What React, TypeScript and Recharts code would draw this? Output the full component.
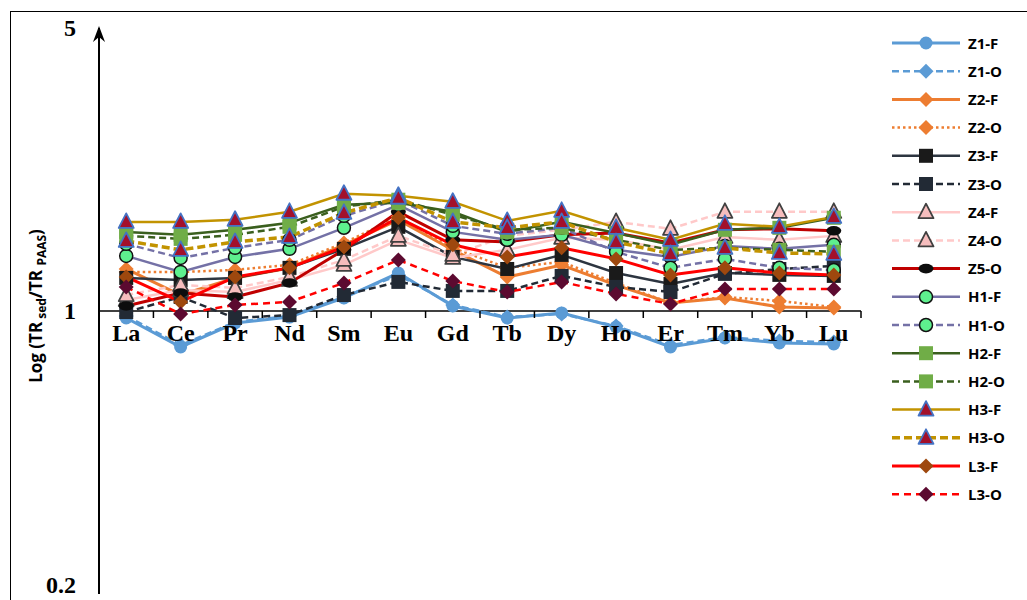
import React from "react";
import { LineChart, Line, XAxis, YAxis, ReferenceLine } from "recharts";

const CATS = ["La", "Ce", "Pr", "Nd", "Sm", "Eu", "Gd", "Tb", "Dy", "Ho", "Er", "Tm", "Yb", "Lu"];
const Y_TICKS = [0.2, 1, 5];

const Z1_F = [0.961, 0.815, 0.934, 0.966, 1.077, 1.241, 1.029, 0.961, 0.989, 0.913, 0.815, 0.858, 0.834, 0.829];
const Z1_O = [0.972, 0.824, 0.939, 0.972, 1.083, 1.227, 1.035, 0.966, 0.983, 0.918, 0.824, 0.862, 0.843, 0.838];
const Z2_F = [1.27, 1.095, 1.206, 1.277, 1.456, 1.679, 1.415, 1.213, 1.299, 1.159, 1.047, 1.077, 1.023, 1.017];
const Z2_O = [1.248, 1.248, 1.263, 1.3, 1.473, 1.708, 1.432, 1.278, 1.322, 1.172, 1.047, 1.083, 1.059, 1.023];
const Z3_F = [1.207, 1.193, 1.207, 1.278, 1.424, 1.614, 1.36, 1.27, 1.376, 1.241, 1.166, 1.241, 1.228, 1.221];
const Z3_O = [0.994, 1.083, 0.961, 0.977, 1.095, 1.18, 1.121, 1.121, 1.221, 1.147, 1.114, 1.235, 1.27, 1.292];
const Z4_F = [1.065, 1.127, 1.114, 1.193, 1.3, 1.499, 1.352, 1.416, 1.516, 1.499, 1.416, 1.524, 1.499, 1.533];
const Z4_O = [1.095, 1.16, 1.14, 1.214, 1.337, 1.533, 1.376, 1.533, 1.587, 1.66, 1.596, 1.758, 1.758, 1.758];
const Z5_O = [1.029, 1.108, 1.083, 1.173, 1.416, 1.758, 1.499, 1.481, 1.542, 1.559, 1.473, 1.587, 1.596, 1.578];
const H1_F = [1.368, 1.249, 1.36, 1.424, 1.605, 1.829, 1.568, 1.499, 1.542, 1.416, 1.36, 1.448, 1.424, 1.457];
const H1_O = [1.465, 1.352, 1.432, 1.499, 1.718, 1.883, 1.623, 1.551, 1.605, 1.4, 1.278, 1.345, 1.278, 1.263];
const H2_F = [1.568, 1.542, 1.587, 1.651, 1.829, 1.85, 1.758, 1.568, 1.66, 1.559, 1.457, 1.587, 1.605, 1.699];
const H2_O = [1.533, 1.507, 1.542, 1.614, 1.809, 1.883, 1.728, 1.587, 1.605, 1.499, 1.416, 1.432, 1.416, 1.4];
const H3_F = [1.66, 1.66, 1.68, 1.758, 1.948, 1.926, 1.861, 1.67, 1.768, 1.605, 1.499, 1.642, 1.614, 1.708];
const H3_O = [1.49, 1.416, 1.481, 1.524, 1.748, 1.904, 1.66, 1.605, 1.66, 1.481, 1.384, 1.432, 1.391, 1.384];
const L3_F = [1.214, 1.053, 1.214, 1.278, 1.44, 1.699, 1.457, 1.36, 1.432, 1.345, 1.228, 1.278, 1.241, 1.228];
const L3_O = [1.147, 0.983, 1.035, 1.053, 1.173, 1.337, 1.186, 1.114, 1.18, 1.102, 1.041, 1.134, 1.134, 1.134];

type Shape = "circle" | "diamond" | "square" | "triangle" | "oval";
type Series = {
  name: string;
  values: number[];
  color: string;
  width: number;
  dash?: string;
  shape: Shape;
  fill: string;
  stroke?: string;
};

const SERIES: Series[] = [
  { name: "Z1-F", values: Z1_F, color: "#5B9BD5", width: 3, shape: "circle", fill: "#5B9BD5" },
  { name: "Z1-O", values: Z1_O, color: "#5B9BD5", width: 2.5, dash: "7 4", shape: "diamond", fill: "#5B9BD5" },
  { name: "Z2-F", values: Z2_F, color: "#ED7D31", width: 3, shape: "diamond", fill: "#ED7D31" },
  { name: "Z2-O", values: Z2_O, color: "#ED7D31", width: 2.5, dash: "2.5 3", shape: "diamond", fill: "#ED7D31" },
  { name: "Z3-F", values: Z3_F, color: "#2D3540", width: 2.5, shape: "square", fill: "#1A1A1A" },
  { name: "Z3-O", values: Z3_O, color: "#222A35", width: 2.5, dash: "7 4", shape: "square", fill: "#222A35" },
  { name: "Z4-F", values: Z4_F, color: "#FFC9C9", width: 2.5, shape: "triangle", fill: "#F6BDBD", stroke: "#404040" },
  { name: "Z4-O", values: Z4_O, color: "#FFC9C9", width: 2.5, dash: "7 4", shape: "triangle", fill: "#F6BDBD", stroke: "#404040" },
  { name: "Z5-O", values: Z5_O, color: "#C00000", width: 3, shape: "oval", fill: "#0D0D0D" },
  { name: "H1-F", values: H1_F, color: "#7471A6", width: 2.5, shape: "circle", fill: "#5EF08E", stroke: "#111" },
  { name: "H1-O", values: H1_O, color: "#7471A6", width: 2.5, dash: "7 4", shape: "circle", fill: "#5EF08E", stroke: "#111" },
  { name: "H2-F", values: H2_F, color: "#3A5F1E", width: 2.5, shape: "square", fill: "#70AD47" },
  { name: "H2-O", values: H2_O, color: "#3A5F1E", width: 2.5, dash: "7 4", shape: "square", fill: "#70AD47" },
  { name: "H3-F", values: H3_F, color: "#C29300", width: 2.5, shape: "triangle", fill: "#A3102B", stroke: "#4472C4" },
  { name: "H3-O", values: H3_O, color: "#C29300", width: 3.5, dash: "8 4", shape: "triangle", fill: "#A3102B", stroke: "#4472C4" },
  { name: "L3-F", values: L3_F, color: "#FF0000", width: 3, shape: "diamond", fill: "#9E480E" },
  { name: "L3-O", values: L3_O, color: "#FF0000", width: 2.5, dash: "7 5", shape: "diamond", fill: "#5C0A30" },
];

const W = 1027;
const H = 600;
const PLOT_LEFT = 99;
const PLOT_RIGHT = 861;
const PLOT_TOP = 28;
const PLOT_BOTTOM = 594;
const BAND = (PLOT_RIGHT - PLOT_LEFT) / CATS.length;
const Y_ONE = PLOT_TOP + (PLOT_BOTTOM - PLOT_TOP) / 2; // value 1 sits mid-way on the 0.2..5 log axis

const data = CATS.map((el, i) => {
  const row: Record<string, string | number> = { el };
  SERIES.forEach((s) => (row[s.name] = s.values[i]));
  return row;
});

function Marker({ cx, cy, s }: { cx: number; cy: number; s: Series }) {
  const stroke = s.stroke ?? s.fill;
  switch (s.shape) {
    case "circle":
      return <circle cx={cx} cy={cy} r={6.5} fill={s.fill} stroke={stroke} strokeWidth={s.stroke ? 1.5 : 0} />;
    case "diamond":
      return (
        <polygon
          points={`${cx},${cy - 7.5} ${cx + 7.5},${cy} ${cx},${cy + 7.5} ${cx - 7.5},${cy}`}
          fill={s.fill}
        />
      );
    case "square":
      return <rect x={cx - 7} y={cy - 7} width={14} height={14} fill={s.fill} />;
    case "triangle":
      return (
        <polygon
          points={`${cx},${cy - 8.5} ${cx + 7.5},${cy + 6} ${cx - 7.5},${cy + 6}`}
          fill={s.fill}
          stroke={stroke}
          strokeWidth={1.8}
          strokeLinejoin="round"
        />
      );
    case "oval":
      return <ellipse cx={cx} cy={cy} rx={7.5} ry={4.8} fill={s.fill} />;
  }
}

function XTick({ x, payload }: any) {
  return (
    <g>
      <line x1={x + BAND / 2} x2={x + BAND / 2} y1={Y_ONE} y2={Y_ONE + 7} stroke="#000" strokeWidth={1.5} />
      <text
        x={x}
        y={Y_ONE + 30}
        textAnchor="middle"
        fontFamily="Liberation Serif"
        fontWeight="bold"
        fontSize={24}
        fill="#000"
      >
        {payload.value}
      </text>
    </g>
  );
}

function YTick({ y, payload }: any) {
  // the bottom label sits at the frame edge; keep it inside the picture
  return (
    <text
      x={76}
      y={Math.min(y + 8, H - 7)}
      textAnchor="end"
      fontFamily="Liberation Serif"
      fontWeight="bold"
      fontSize={24}
      fill="#000"
    >
      {payload.value}
    </text>
  );
}

function ChartLegend() {
  const top = 43;
  const step = 28.2;
  return (
    <svg width={147} height={520} style={{ position: "absolute", left: 880, top: 0 }}>
      {SERIES.map((s, i) => {
        const y = top + i * step;
        return (
          <g key={s.name}>
            <line
              x1={12}
              x2={80}
              y1={y}
              y2={y}
              stroke={s.color}
              strokeWidth={s.width}
              strokeDasharray={s.dash}
            />
            <Marker cx={46} cy={y} s={s} />
            <text x={88} y={y + 5.5} fontFamily="Open Sans" fontWeight="bold" fontSize={15} fill="#000">
              {s.name}
            </text>
          </g>
        );
      })}
    </svg>
  );
}

export default function App() {
  return (
    <div style={{ position: "absolute", left: 0, top: 0, width: W, height: H, background: "#fff", overflow: "hidden" }}>
      <div
        style={{
          position: "absolute",
          left: 10,
          top: 11,
          width: 1100,
          height: 700,
          borderLeft: "1.5px solid #000",
          borderTop: "1.5px solid #000",
        }}
      />
      <div style={{ position: "absolute", left: 0, top: 0 }}>
        <LineChart
          width={W}
          height={H}
          data={data}
          margin={{ top: PLOT_TOP, right: W - PLOT_RIGHT, bottom: H - PLOT_BOTTOM - 1, left: PLOT_LEFT - 60 }}
        >
          <XAxis
            dataKey="el"
            height={1}
            axisLine={false}
            tickLine={false}
            interval={0}
            padding={{ left: BAND / 2, right: BAND / 2 }}
            tick={<XTick />}
          />
          <YAxis
            type="number"
            scale="log"
            domain={[0.2, 5]}
            ticks={Y_TICKS}
            interval={0}
            allowDataOverflow
            width={60}
            tickLine={false}
            axisLine={{ stroke: "#000", strokeWidth: 2 }}
            tick={<YTick />}
          />
          <ReferenceLine y={1} stroke="#000" strokeWidth={1.5} />
          {SERIES.map((s) => (
            <Line
              key={s.name}
              dataKey={s.name}
              name={s.name}
              type="linear"
              stroke={s.color}
              strokeWidth={s.width}
              strokeDasharray={s.dash}
              isAnimationActive={false}
              dot={(p: any) => <Marker key={`${s.name}-${p.index}`} cx={p.cx} cy={p.cy} s={s} />}
              activeDot={false}
            />
          ))}
          <text
            transform="translate(42 306) rotate(-90)"
            textAnchor="middle"
            fontFamily="Open Sans"
            fontWeight="bold"
            fontSize={17}
            fill="#000"
          >
            Log (TR
            <tspan fontSize={12} dy={4}> sed</tspan>
            <tspan dy={-4}>/TR </tspan>
            <tspan fontSize={12} dy={4}>PAAS</tspan>
            <tspan dy={-4}>)</tspan>
          </text>
          {/* arrow head on the y axis */}
          <path
            d={`M${PLOT_LEFT - 6},${PLOT_TOP + 14} L${PLOT_LEFT},${PLOT_TOP - 2} L${PLOT_LEFT + 6},${PLOT_TOP + 14} L${PLOT_LEFT},${PLOT_TOP + 9} Z`}
            fill="#000"
          />
        </LineChart>
      </div>
      <ChartLegend />
    </div>
  );
}
